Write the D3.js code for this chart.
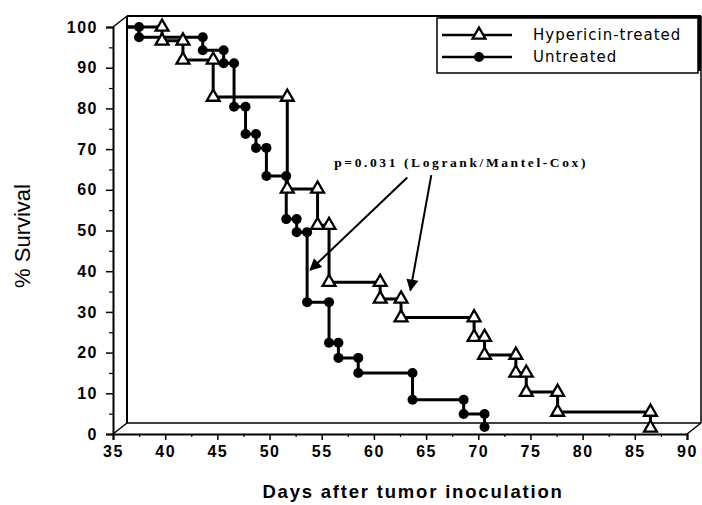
<!DOCTYPE html>
<html>
<head>
<meta charset="utf-8">
<script src="https://cdn.jsdelivr.net/npm/d3@7"></script>
<style>
  body { margin: 0; background: #fff; }
  svg { display: block; }
  .tick text { font-family: "Liberation Sans", Arial, sans-serif; font-weight: bold; font-size: 16px; fill: #000; }
</style>
</head>
<body>
<div id="chart"></div>
<script>
// survival data (step vertices)
const untreatedDays = [37.5, 43.6, 45.6, 46.6, 47.7, 48.7, 49.7, 51.6, 52.6, 53.6, 55.7, 56.6, 58.5, 63.7, 68.6, 70.6];
const untreatedSurv = [97.5, 94.3, 91.1, 80.4, 73.7, 70.3, 63.4, 52.8, 49.6, 32.4, 22.4, 18.7, 15.0, 8.4, 4.9, 1.7];
const hypericinDays = [39.7, 41.7, 44.6, 51.7, 54.6, 55.7, 60.6, 62.6, 69.6, 70.6, 73.6, 74.6, 77.6, 86.5];
const hypericinSurv = [96.6, 91.9, 82.8, 60.2, 51.3, 37.3, 33.2, 28.6, 23.8, 19.4, 15.0, 10.3, 5.4, 1.5];
const startDay = 36.3;

const xTicks = [35, 40, 45, 50, 55, 60, 65, 70, 75, 80, 85, 90];
const yTicks = [0, 10, 20, 30, 40, 50, 60, 70, 80, 90, 100];
const legendLabels = ["Hypericin-treated", "Untreated"];
const pText = "p=0.031 (Logrank/Mantel-Cox)";
// annotation in data units: text anchor, arrow starts and tips
const pAt = [56.2, 65.6];
const arrows = [
  { from: [63.2, 63.0], to: [53.9, 40.3] },
  { from: [65.5, 63.6], to: [63.5, 35.3] },
];

const W = 702, H = 505;
const dx = 14, dy = -11; // depth offset of the back plane

const svg = d3.select("#chart").append("svg").attr("width", W).attr("height", H);

const x = d3.scaleLinear().domain([35, 90]).range([113, 687]);
const y = d3.scaleLinear().domain([0, 100]).range([434, 27]);

// back plane (3D box)
const bx0 = x(35) + dx, bx1 = x(90) + dx, by0 = y(100) + dy, by1 = y(0) + dy;
const frame = svg.append("g").attr("stroke", "#000").attr("fill", "none");
frame.append("line").attr("x1", bx0).attr("y1", by0).attr("x2", bx1).attr("y2", by0).attr("stroke-width", 2);
frame.append("line").attr("x1", bx0).attr("y1", by0).attr("x2", bx0).attr("y2", by1).attr("stroke-width", 2);
frame.append("line").attr("x1", bx0).attr("y1", by1).attr("x2", bx1).attr("y2", by1).attr("stroke-width", 1.5);
frame.append("line").attr("x1", bx1).attr("y1", by0).attr("x2", bx1).attr("y2", by1).attr("stroke-width", 1.5);
// connecting diagonals
[[x(35), y(100)], [x(35), y(0)], [x(90), y(0)]].forEach(([px, py]) => {
  frame.append("line").attr("x1", px).attr("y1", py).attr("x2", px + dx).attr("y2", py + dy).attr("stroke-width", 1.5);
});

// front axes
const yAxis = d3.axisLeft(y).tickValues(yTicks).tickSize(7).tickPadding(8).tickFormat(d3.format("d"));
const gy = svg.append("g").attr("transform", `translate(${x(35)},0)`).call(yAxis);
gy.select(".domain").attr("stroke-width", 2);
gy.selectAll(".tick line").attr("stroke-width", 1.5);
gy.selectAll(".tick text").attr("letter-spacing", "1.5px");
const gyMinor = svg.append("g").attr("transform", `translate(${x(35)},0)`)
  .call(d3.axisLeft(y).tickValues(d3.range(5, 100, 10)).tickSize(4).tickFormat(""));
gyMinor.select(".domain").remove();
gyMinor.selectAll(".tick line").attr("stroke-width", 1.2);

const xAxis = d3.axisBottom(x).tickValues(xTicks).tickSize(6).tickPadding(6).tickFormat(d3.format("d"));
const gx = svg.append("g").attr("transform", `translate(0,${y(0)})`).call(xAxis);
gx.select(".domain").attr("stroke-width", 2);
gx.selectAll(".tick line").attr("stroke-width", 1.5);
gx.selectAll(".tick text").attr("letter-spacing", "1.5px");
const gxMinor = svg.append("g").attr("transform", `translate(0,${y(0)})`)
  .call(d3.axisBottom(x).tickValues(d3.range(37.5, 90, 5)).tickSize(3).tickFormat(""));
gxMinor.select(".domain").remove();
gxMinor.selectAll(".tick line").attr("stroke-width", 1.2);

// step curves
function stepPoints(days, surv) {
  const pts = [[startDay, 100]];
  let prev = 100;
  days.forEach((d, i) => { pts.push([d, prev]); pts.push([d, surv[i]]); prev = surv[i]; });
  return pts;
}
function markerPoints(days, surv) {
  const pts = [];
  let prev = 100;
  days.forEach((d, i) => { pts.push([d, prev]); pts.push([d, surv[i]]); prev = surv[i]; });
  return pts;
}
const line = d3.line().x(d => x(d[0])).y(d => y(d[1]));

const series = [
  { days: untreatedDays, surv: untreatedSurv, symbol: "dot" },
  { days: hypericinDays, surv: hypericinSurv, symbol: "tri" },
];
series.forEach(s => {
  svg.append("path").datum(stepPoints(s.days, s.surv)).attr("d", line)
    .attr("fill", "none").attr("stroke", "#000").attr("stroke-width", 3);
});

const tri = d3.symbol().type(d3.symbolTriangle).size(72);
function drawMarker(g, kind, px, py) {
  if (kind === "dot") {
    g.append("circle").attr("cx", px).attr("cy", py).attr("r", 5).attr("fill", "#000");
  } else {
    g.append("path").attr("d", tri()).attr("transform", `translate(${px},${py})`)
      .attr("fill", "#fff").attr("stroke", "#000").attr("stroke-width", 2.3);
  }
}
const gm = svg.append("g");
series.forEach(s => {
  markerPoints(s.days, s.surv).forEach(p => drawMarker(gm, s.symbol, x(p[0]), y(p[1])));
});

// annotation
svg.append("text").attr("x", x(pAt[0])).attr("y", y(pAt[1]))
  .attr("font-family", "'Liberation Serif', 'Times New Roman', serif")
  .attr("font-weight", "bold").attr("font-size", 13.5).attr("letter-spacing", "2.6px")
  .text(pText);
svg.append("defs").append("marker").attr("id", "ah")
  .attr("viewBox", "0 0 10 10").attr("refX", 9).attr("refY", 5)
  .attr("markerWidth", 16).attr("markerHeight", 12).attr("markerUnits", "userSpaceOnUse")
  .attr("orient", "auto")
  .append("path").attr("d", "M0,0 L10,5 L0,10 Z").attr("fill", "#000");
arrows.forEach(a => {
  svg.append("line").attr("x1", x(a.from[0])).attr("y1", y(a.from[1]))
    .attr("x2", x(a.to[0])).attr("y2", y(a.to[1]))
    .attr("stroke", "#000").attr("stroke-width", 2).attr("marker-end", "url(#ah)");
});

// legend
const lg = svg.append("g").attr("transform", "translate(437,18)");
lg.append("rect").attr("x", 3).attr("y", -2).attr("width", 261).attr("height", 55).attr("fill", "#000");
lg.append("rect").attr("x", 0).attr("y", 0).attr("width", 261).attr("height", 55)
  .attr("fill", "#fff").attr("stroke", "#000").attr("stroke-width", 1.5);
legendLabels.forEach((lab, i) => {
  const ly = 17 + i * 22;
  lg.append("line").attr("x1", 5).attr("x2", 75).attr("y1", ly).attr("y2", ly)
    .attr("stroke", "#000").attr("stroke-width", 2.5);
  drawMarker(lg, i === 0 ? "tri" : "dot", 42, ly);
  lg.append("text").attr("x", 96).attr("y", ly).attr("dy", "0.36em")
    .attr("font-family", "'DejaVu Sans', Verdana, sans-serif").attr("font-size", 15)
    .attr("letter-spacing", "1px").text(lab);
});

// axis titles
svg.append("text").attr("transform", `translate(30,236) rotate(-90)`)
  .attr("text-anchor", "middle").attr("font-family", "'Liberation Sans', Arial, sans-serif")
  .attr("font-size", 22).text("% Survival");
svg.append("text").attr("x", 413).attr("y", 498).attr("text-anchor", "middle")
  .attr("font-family", "'Liberation Sans', Arial, sans-serif").attr("font-weight", "bold")
  .attr("font-size", 18.5).attr("letter-spacing", "1.8px").text("Days after tumor inoculation");
</script>
</body>
</html>
